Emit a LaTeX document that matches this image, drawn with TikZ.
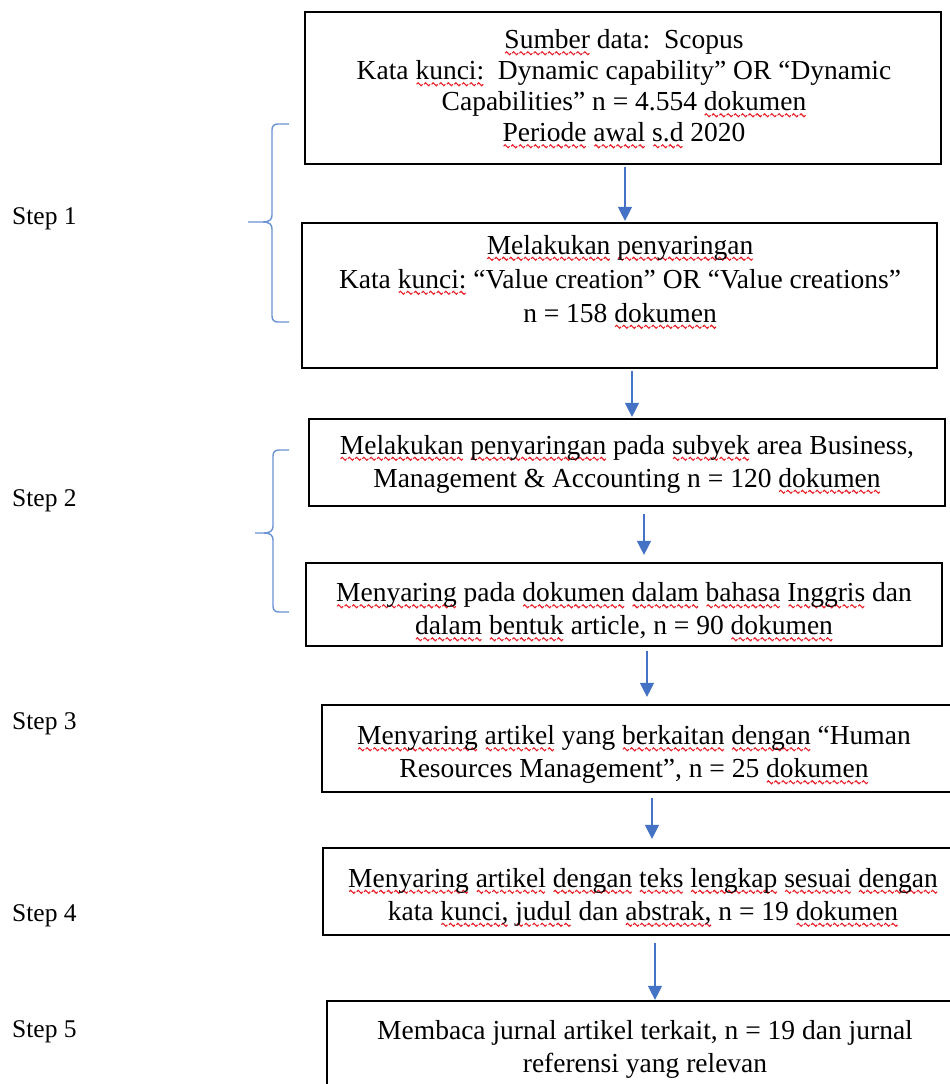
\documentclass[tikz,border=0pt]{standalone}
\usepackage{fontspec}
\setmainfont{Liberation Serif}
\usetikzlibrary{arrows.meta}
\definecolor{arrblue}{HTML}{4472C4}
\definecolor{brblue}{HTML}{6A93D4}
\definecolor{wavered}{HTML}{E8202A}
\newsavebox\wavebox
\sbox\wavebox{\tikz[baseline=0pt]\draw[wavered,line width=1.1pt] (0pt,0pt) sin (1.5pt,1.5pt) cos (3pt,0pt) sin (4.5pt,-1.5pt) cos (6pt,0pt);}
\newcommand\sq[1]{\setbox0\hbox{#1}\rlap{\lower4.5pt\hbox to \wd0{\xleaders\hbox{\usebox\wavebox}\hfill}}\box0\relax}
\tikzset{
  stepbox/.style={draw=black, line width=2.2pt, inner sep=0pt},
  txt/.style={align=center, inner sep=0pt, font=\fontsize{27.5}{33}\selectfont},
  steplabel/.style={anchor=base west, inner sep=0pt, font=\fontsize{25.5}{30}\selectfont},
  arr/.style={draw=arrblue, line width=1.3pt, -{Triangle[width=14pt,length=14pt]}},
  brace/.style={draw=brblue, line width=1.4pt}
}
\begin{document}
\begin{tikzpicture}[x=1pt,y=-1pt]
\clip (0,0) rectangle (950,1084);
\fill[white] (0,0) rectangle (950,1084);

% boxes
\node[stepbox, minimum width=636pt, minimum height=152pt] (b1) at (623,88) {};
\node[stepbox, minimum width=635pt, minimum height=145pt] (b2) at (619.5,295.5) {};
\node[stepbox, minimum width=636pt, minimum height=87pt] (b3) at (627,462.5) {};
\node[stepbox, minimum width=636pt, minimum height=83pt] (b4) at (624,604.5) {};
\node[stepbox, minimum width=644pt, minimum height=87pt] (b5) at (644,748.5) {};
\node[stepbox, minimum width=643pt, minimum height=87pt] (b6) at (644.5,891.5) {};
\node[stepbox, minimum width=639pt, minimum height=99pt] (b7) at (646.5,1050.5) {};

% texts
\node[txt, font=\fontsize{27.5}{31}\selectfont] (t1) at (624,89) {\sq{Sumber} data:\ \ Scopus\\ Kata \sq{kunci:}\ \ Dynamic capability” OR “Dynamic\\ Capabilities” n = 4.554 \sq{dokumen}\\ \sq{Periode} \sq{awal} \sq{s.d} 2020};
\node[txt, font=\fontsize{27.5}{34}\selectfont] (t2) at (620,282) {\sq{Melakukan} \sq{penyaringan}\\ Kata \sq{kunci:} “Value creation” OR “Value creations”\\ n = 158 \sq{dokumen}};
\node[txt] (t3) at (627,464.5) {\sq{Melakukan} \sq{penyaringan} pada \sq{subyek} area Business,\\ Management \& Accounting n = 120 \sq{dokumen}};
\node[txt] (t4) at (624,612) {\sq{Menyaring} pada \sq{dokumen} \sq{dalam} \sq{bahasa} \sq{Inggris} dan\\ \sq{dalam} \sq{bentuk} article, n = 90 \sq{dokumen}};
\node[txt] (t5) at (634,755) {\sq{Menyaring} \sq{artikel} yang \sq{berkaitan} \sq{dengan} “Human\\ Resources Management”, n = 25 \sq{dokumen}};
\node[txt] (t6) at (643,897.5) {\sq{Menyaring} \sq{artikel} \sq{dengan} \sq{teks} \sq{lengkap} \sq{sesuai} \sq{dengan}\\ kata \sq{kunci,} \sq{judul} dan \sq{abstrak,} n = 19 \sq{dokumen}};
\node[txt] (t7) at (645,1049) {Membaca jurnal artikel terkait, n = 19 dan jurnal\\ referensi yang relevan};

% step labels
\node[steplabel] (s1) at (12,224) {Step 1};
\node[steplabel] (s2) at (12,506) {Step 2};
\node[steplabel] (s3) at (12,729) {Step 3};
\node[steplabel] (s4) at (12,921) {Step 4};
\node[steplabel] (s5) at (12,1037) {Step 5};

% arrow x positions
\coordinate (x1) at (625,0);
\coordinate (x2) at (632,0);
\coordinate (x3) at (644,0);
\coordinate (x4) at (647,0);
\coordinate (x5) at (652,0);
\coordinate (x6) at (655,0);

\draw[arr, shorten <=2pt, shorten >=1pt] (b1.south -| x1) -- (b2.north -| x1);
\draw[arr, shorten <=2pt, shorten >=1pt] (b2.south -| x2) -- (b3.north -| x2);
\draw[arr, shorten <=7pt, shorten >=7pt] (b3.south -| x3) -- (b4.north -| x3);
\draw[arr, shorten <=4pt, shorten >=7pt] (b4.south -| x4) -- (b5.north -| x4);
\draw[arr, shorten <=5pt, shorten >=8pt] (b5.south -| x5) -- (b6.north -| x5);
\draw[arr, shorten <=7pt, shorten >=0pt] (b6.south -| x6) -- (b7.north -| x6);

% braces
\draw[brace] (289,124) -- (278,124) .. controls (274,124) and (272,126) .. (272,130) -- (272,215)
  .. controls (272,219) and (270,222) .. (263,222) -- (248,222);
\draw[brace] (263,222) .. controls (270,222) and (272,225) .. (272,229) -- (272,316)
  .. controls (272,320) and (274,322) .. (278,322) -- (289,322);
\draw[brace] (289,450) -- (279,450) .. controls (275,450) and (273,452) .. (273,456) -- (273,526)
  .. controls (273,530) and (271,533) .. (264,533) -- (255,533);
\draw[brace] (264,533) .. controls (271,533) and (273,536) .. (273,540) -- (273,606)
  .. controls (273,610) and (275,612) .. (279,612) -- (289,612);
\end{tikzpicture}
\end{document}
